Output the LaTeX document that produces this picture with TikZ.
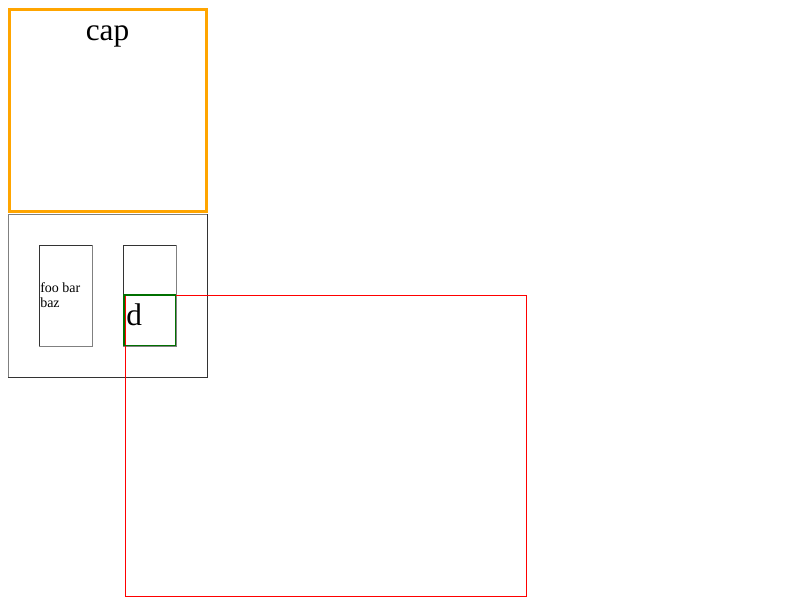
\documentclass[tikz,border=0pt]{standalone}
\usepackage{fontspec}
\setmainfont{Liberation Serif}
\definecolor{capor}{HTML}{FFA500}
\definecolor{lgray}{HTML}{808080}
\definecolor{dgray}{HTML}{333333}
\definecolor{dgreen}{HTML}{007000}
\tikzset{
  litebox/.style={draw=lgray, line width=0.75pt},
  darkedge/.style={draw=dgray, line width=0.75pt},
  capbox/.style={draw=capor, line width=2.25pt},
  redbox/.style={draw=red, line width=0.75pt},
  greenbox/.style={draw=dgreen, line width=1.2pt},
  big/.style={font=\fontsize{23.5pt}{26pt}\selectfont, inner sep=0pt},
  small/.style={font=\fontsize{10.5pt}{10.6pt}\selectfont, inner sep=0pt, align=left}
}
\begin{document}
\begin{tikzpicture}[x=0.75pt,y=-0.75pt]
\useasboundingbox (0,0) rectangle (800,600);
% outer gray box
\draw[litebox] (8,377) -- (8,214) -- (207,214);
\draw[darkedge] (207,214) -- (207,377) -- (8,377);
% orange cap box
\draw[capbox] (9,9) rectangle (206,211);
\node[big, anchor=base] (cap) at (107.5,40) {cap};
% inner box 1
\draw[darkedge] (39,346) -- (39,245) -- (92,245);
\draw[litebox] (92,245) -- (92,346) -- (39,346);
\node[small, anchor=base west] (foo) at (40,307) {foo bar\\baz};
% inner box 2
\draw[darkedge] (123,346) -- (123,245) -- (176,245);
\draw[litebox] (176,245) -- (176,346) -- (123,346);
% red box
\draw[redbox] (125,295) rectangle (526,596);
% green box
\draw[greenbox] (124,295) rectangle (175.5,345.5);
\node[big, anchor=base west] (d) at (126,325) {d};
\end{tikzpicture}
\end{document}
